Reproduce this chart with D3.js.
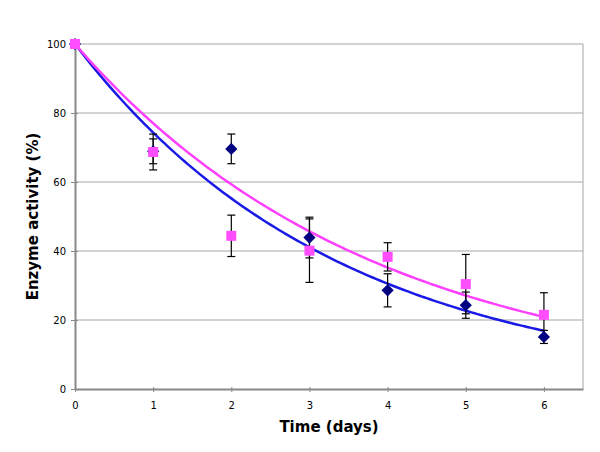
<!DOCTYPE html>
<html>
<head>
<meta charset="utf-8">
<script src="https://cdn.jsdelivr.net/npm/d3@7"></script>
<style>
  body { margin: 0; background: #fff; }
  svg { display: block; }
  .tick text { font-family: Verdana, "DejaVu Sans", sans-serif; font-size: 10px; fill: #000; }
</style>
</head>
<body>
<div id="chart"></div>
<script>
// Enzyme activity over time, two series with error bars + exponential trendlines
const days = [0, 1, 2, 3, 4, 5, 6];
const blueValues = [100, 68.9, 69.6, 43.9, 28.6, 24.3, 15.1];
const blueErrors = [0, 3.6, 4.3, 5.9, 4.8, 3.8, 1.9];
const pinkValues = [100, 68.7, 44.4, 40.1, 38.3, 30.4, 21.5];
const pinkErrors = [0, 5.2, 6.0, 9.2, 4.1, 8.6, 6.4];
const xTicks = [0, 1, 2, 3, 4, 5, 6];
const yTicks = [0, 20, 40, 60, 80, 100];

const width = 600, height = 452;
const margin = { left: 75, right: 17, top: 44, bottom: 63 };

const svg = d3.select('#chart').append('svg')
    .attr('width', width)
    .attr('height', height);

const x = d3.scaleLinear().domain([0, 6.5]).range([margin.left, width - margin.right]);
const y = d3.scaleLinear().domain([0, 100]).range([height - margin.bottom, margin.top]);

// gridlines
svg.append('g')
    .selectAll('line')
    .data(yTicks.filter(d => d > 0))
    .enter().append('line')
    .attr('x1', x(0)).attr('x2', x(6.5))
    .attr('y1', d => y(d)).attr('y2', d => y(d))
    .attr('stroke', '#a6a6a6')
    .attr('stroke-width', 1);

// right border of plot area
svg.append('line')
    .attr('x1', x(6.5)).attr('x2', x(6.5))
    .attr('y1', y(100)).attr('y2', y(0))
    .attr('stroke', '#a6a6a6');

// axes
const xAxis = svg.append('g')
    .attr('transform', `translate(0,${y(0)})`)
    .call(d3.axisBottom(x).tickValues(xTicks).tickFormat(d3.format('d')).tickSize(4).tickSizeOuter(0));
const yAxis = svg.append('g')
    .attr('transform', `translate(${x(0)},0)`)
    .call(d3.axisLeft(y).tickValues(yTicks).tickSize(4).tickSizeOuter(0));

xAxis.selectAll('.tick line').attr('stroke', '#888').attr('y1', -2).attr('y2', 3);
yAxis.selectAll('.tick line').attr('stroke', '#888').attr('x1', 3).attr('x2', -4);
xAxis.select('.domain').attr('stroke', '#888').attr('stroke-width', 2);
yAxis.select('.domain').attr('stroke', '#888').attr('stroke-width', 2);
xAxis.selectAll('.tick text').attr('dy', '1.25em');
yAxis.selectAll('.tick text').attr('x', -9);
svg.selectAll('.domain').attr('fill', 'none');

// axis titles
svg.append('text')
    .attr('x', (x(0) + x(6.5)) / 2)
    .attr('y', 432)
    .attr('text-anchor', 'middle')
    .style('font-family', 'Verdana, "DejaVu Sans", sans-serif')
    .style('font-weight', 'bold')
    .style('font-size', '15px')
    .text('Time (days)');

svg.append('text')
    .attr('transform', `translate(38,${(y(0) + y(100)) / 2}) rotate(-90)`)
    .attr('text-anchor', 'middle')
    .style('font-family', 'Verdana, "DejaVu Sans", sans-serif')
    .style('font-weight', 'bold')
    .style('font-size', '15px')
    .text('Enzyme activity (%)');

// exponential trendline with fixed intercept 100: y = 100 * exp(b t)
function fitRate(xs, ys) {
    let num = 0, den = 0;
    xs.forEach((t, i) => {
        num += t * Math.log(ys[i] / 100);
        den += t * t;
    });
    return num / den;
}

function trend(values, color) {
    const b = fitRate(days, values);
    const pts = d3.range(0, 6.0001, 0.05).map(t => [t, 100 * Math.exp(b * t)]);
    svg.append('path')
        .datum(pts)
        .attr('fill', 'none')
        .attr('stroke', color)
        .attr('stroke-width', 2.5)
        .attr('d', d3.line().x(d => x(d[0])).y(d => y(d[1])).curve(d3.curveMonotoneX));
}

function errorBars(values, errors) {
    const g = svg.append('g').attr('stroke', '#000').attr('stroke-width', 1.2);
    days.forEach((t, i) => {
        if (!errors[i]) return;
        const cx = x(t), top = y(values[i] + errors[i]), bot = y(values[i] - errors[i]);
        g.append('line').attr('x1', cx).attr('x2', cx).attr('y1', top).attr('y2', bot);
        g.append('line').attr('x1', cx - 4).attr('x2', cx + 4).attr('y1', top).attr('y2', top);
        g.append('line').attr('x1', cx - 4).attr('x2', cx + 4).attr('y1', bot).attr('y2', bot);
    });
}

trend(blueValues, '#1a1ae6');
trend(pinkValues, '#ff40ff');
errorBars(blueValues, blueErrors);
errorBars(pinkValues, pinkErrors);

// blue diamonds
svg.append('g')
    .selectAll('path')
    .data(days)
    .enter().append('path')
    .attr('d', d3.symbol(d3.symbolDiamond2, 95))
    .attr('transform', (d, i) => `translate(${x(d)},${y(blueValues[i])})`)
    .attr('fill', '#000080');

// pink squares
svg.append('g')
    .selectAll('rect')
    .data(days)
    .enter().append('rect')
    .attr('x', d => x(d) - 5)
    .attr('y', (d, i) => y(pinkValues[i]) - 5)
    .attr('width', 10)
    .attr('height', 10)
    .attr('fill', '#ff4dff');
</script>
</body>
</html>
